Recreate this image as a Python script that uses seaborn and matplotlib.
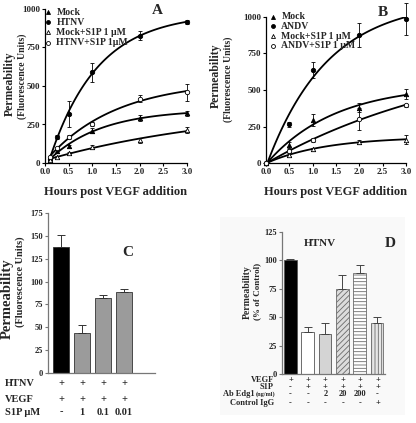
import numpy as np
import pandas as pd
import matplotlib
matplotlib.use('Agg')
import matplotlib.pyplot as plt
import seaborn as sns
from matplotlib.patches import Rectangle

# ---- panel A : HTNV time course
a_hours = [0.1, 0.25, 0.5, 1.0, 2.0, 3.0]
a_mock = [22, 76, 108, 210, 292, 322]
a_mock_err = [5, 8, 10, 15, 20, 15]
a_htnv = [26, 167, 318, 589, 827, 916]
a_htnv_err = [5, 12, 85, 60, 28, 15]
a_mock_s1p = [20, 40, 65, 104, 147, 212]
a_mock_s1p_err = [4, 6, 8, 15, 15, 20]
a_htnv_s1p = [40, 97, 167, 253, 418, 460]
a_htnv_s1p_err = [5, 8, 12, 15, 25, 55]

# ---- panel B : ANDV time course
b_hours = [0.0, 0.5, 1.0, 2.0, 3.0]
b_mock = [0, 125, 295, 380, 472]
b_mock_err = [0, 23, 42, 30, 35]
b_andv = [0, 266, 636, 876, 984]
b_andv_err = [0, 18, 55, 80, 110]
b_mock_s1p = [0, 60, 95, 147, 162]
b_mock_s1p_err = [0, 8, 10, 15, 28]
b_andv_s1p = [0, 85, 159, 302, 397]
b_andv_s1p_err = [0, 10, 12, 75, 10]

# ---- panel C
c_groups = ['ctl', 's1p_1', 's1p_01', 's1p_001']
c_values = [138, 44, 82, 89]
c_err = [13, 9, 3, 3]
c_htnv = ['+', '+', '+', '+']
c_vegf = ['+', '+', '+', '+']
c_s1p = ['-', '1', '0.1', '0.01']

# ---- panel D
d_groups = ['vegf', 's1p', 'ab2', 'ab20', 'ab200', 'igg']
d_values = [100, 37, 35, 75, 89, 45]
d_err = [1, 4, 10, 12, 7, 5]
d_vegf = ['+', '+', '+', '+', '+', '+']
d_s1p = ['-', '+', '+', '+', '+', '+']
d_ab = ['-', '-', '2', '20', '200', '-']
d_igg = ['-', '-', '-', '-', '-', '+']

sns.set_style('ticks')
plt.rcParams['font.family'] = ['Liberation Serif', 'DejaVu Serif']
plt.rcParams['font.weight'] = 'bold'
plt.rcParams['hatch.linewidth'] = 0.6

W, H = 416, 423
fig = plt.figure(figsize=(W / 100, H / 100), dpi=100)


def rect(l, t, r, b):
    return [l / W, 1 - b / H, (r - l) / W, (b - t) / H]


def ftext(xpix, ypix, s, **kw):
    fig.text(xpix / W, 1 - ypix / H, s, fontweight='bold', **kw)


def fit_curve(x, y):
    # y = a + b*exp(-k x); k by grid search, a and b by least squares
    x = np.asarray(x, float)
    y = np.asarray(y, float)
    best = None
    for k in np.linspace(0.05, 5, 500):
        A = np.column_stack([np.ones_like(x), np.exp(-k * x)])
        coef, *_ = np.linalg.lstsq(A, y, rcond=None)
        sse = np.sum((A @ coef - y) ** 2)
        if best is None or sse < best[0]:
            best = (sse, k, coef)
    _, k, (a, b) = best
    xs = np.linspace(x.min(), x.max(), 120)
    return xs, a + b * np.exp(-k * xs)


def style_axes(ax, color='black'):
    sns.despine(ax=ax)
    for s in ['left', 'bottom']:
        ax.spines[s].set_color(color)
        ax.spines[s].set_linewidth(0.9)
    ax.tick_params(length=2.5, width=0.8, pad=1, labelsize=6.5, color=color)
    for lab in ax.get_xticklabels() + ax.get_yticklabels():
        lab.set_fontweight('bold')


def time_panel(ax, hours, series, legend_xy):
    for name, vals, err, marker, face in series:
        xs, ys = fit_curve(hours, vals)
        sns.lineplot(x=xs, y=ys, color='black', lw=1.3, ax=ax)
        ax.errorbar(hours, vals, yerr=err, fmt='none', ecolor='black',
                    elinewidth=0.6, capsize=1.5, capthick=0.6, clip_on=False)
        sns.scatterplot(x=hours, y=vals, marker=marker, s=10, color=face,
                        edgecolor='black', linewidth=0.6, ax=ax, zorder=5, clip_on=False)
    ax.set_xlim(0, 3.0)
    ax.set_ylim(0, 1000)
    ax.set_xticks(np.arange(0, 3.01, 0.5))
    ax.set_xticklabels([f'{v:.1f}' for v in np.arange(0, 3.01, 0.5)])
    ax.set_yticks([0, 250, 500, 750, 1000])
    style_axes(ax)
    ax.set_xlabel('Hours post VEGF addition', fontsize=9, fontweight='bold', labelpad=7)
    ax.set_ylabel('')
    lx, ly = legend_xy
    for i, (name, vals, err, marker, face) in enumerate(series):
        yy = ly - i * 0.066
        ax.scatter([lx], [yy], marker=marker, s=8, c=face, edgecolors='black',
                   linewidths=0.6, transform=ax.transAxes, clip_on=False, zorder=6)
        ax.text(lx + 0.06, yy, name, transform=ax.transAxes, fontsize=7,
                fontweight='bold', va='center', ha='left')


# ---- A
axA = fig.add_axes(rect(45, 9, 187, 163))
time_panel(axA, a_hours, [
    ('Mock', a_mock, a_mock_err, '^', 'black'),
    ('HTNV', a_htnv, a_htnv_err, 'o', 'black'),
    ('Mock+S1P 1 \u00b5M', a_mock_s1p, a_mock_s1p_err, '^', 'white'),
    ('HTNV+S1P 1\u00b5M', a_htnv_s1p, a_htnv_s1p_err, 'o', 'white'),
], (0.02, 0.98))
ftext(157, 11, 'A', fontsize=11, ha='center', va='center')
ftext(10, 84, 'Permeability', rotation=90, fontsize=8.5, ha='center', va='center')
ftext(22, 76, '(Fluorescence Units)', rotation=90, fontsize=7, ha='center', va='center')

# ---- B
axB = fig.add_axes(rect(266, 16.7, 406, 163.3))
time_panel(axB, b_hours, [
    ('Mock', b_mock, b_mock_err, '^', 'black'),
    ('ANDV', b_andv, b_andv_err, 'o', 'black'),
    ('Mock+S1P 1 \u00b5M', b_mock_s1p, b_mock_s1p_err, '^', 'white'),
    ('ANDV+S1P 1 \u00b5M', b_andv_s1p, b_andv_s1p_err, 'o', 'white'),
], (0.05, 1.0))
ftext(383, 12, 'B', fontsize=11, ha='center', va='center')
ftext(216, 76, 'Permeability', rotation=90, fontsize=8.5, ha='center', va='center')
ftext(228, 79, '(Fluorescence Units)', rotation=90, fontsize=7, ha='center', va='center')

# ---- C
axC = fig.add_axes(rect(48, 213, 155, 373))
sns.barplot(x=c_groups, y=c_values, hue=c_groups,
            palette=['black', '#9b9b9b', '#9b9b9b', '#9b9b9b'],
            width=0.76, edgecolor='#333333', linewidth=0.6, legend=False, ax=axC)
axC.errorbar(range(len(c_values)), c_values, yerr=[[0] * len(c_err), c_err], fmt='none',
             ecolor='#333333', elinewidth=0.7, capsize=3, capthick=0.7)
axC.set_xlim(-0.62, 4.48)
axC.set_ylim(0, 175)
axC.set_yticks(np.arange(0, 176, 25))
axC.set_xticks([])
axC.set_xlabel('')
style_axes(axC, color='#777777')
axC.tick_params(labelsize=6)
ftext(128, 252, 'C', fontsize=11, ha='center', va='center')
ftext(7, 299, 'Permeability', rotation=90, fontsize=10.5, ha='center', va='center')
ftext(20, 282, '(Fluorescence Units)', rotation=90, fontsize=7.5, ha='center', va='center')
for row_label, row_vals, ypix in [('HTNV', c_htnv, 383), ('VEGF', c_vegf, 399),
                                  ('S1P \u00b5M', c_s1p, 412)]:
    ftext(5, ypix, row_label, fontsize=7.5, ha='left', va='center')
    for i, v in enumerate(row_vals):
        ftext(61 + i * 21, ypix, v, fontsize=7.5, ha='center', va='center')

# ---- D
fig.patches.append(Rectangle((220 / W, 1 - 415 / H), 185 / W, 198 / H, transform=fig.transFigure,
                             facecolor='#f9f9f9', edgecolor='none', zorder=-1))
axD = fig.add_axes(rect(282, 232, 385, 374))
axD.patch.set_alpha(0)
d_faces = ['black', 'white', '#d4d4d4', '#dcdcdc', 'white', '#e6e6e6']
d_hatch = [None, None, None, '//////', '-----', '|||||']
sns.barplot(x=d_groups, y=d_values, hue=d_groups, palette=d_faces, width=0.74,
            edgecolor='#555555', linewidth=0.6, legend=False, ax=axD)
for p, h in zip(axD.patches, d_hatch):
    if h:
        p.set_hatch(h)
        p.set_edgecolor('#6a6a6a')
axD.errorbar(range(len(d_values)), d_values, yerr=[[0] * len(d_err), d_err], fmt='none',
             ecolor='#444444', elinewidth=0.7, capsize=3, capthick=0.7)
axD.set_xlim(-0.48, 5.46)
axD.set_ylim(0, 125)
axD.set_yticks(np.arange(0, 126, 25))
axD.set_xticks([])
axD.set_xlabel('')
style_axes(axD, color='#777777')
axD.tick_params(labelsize=6)
ftext(320, 243, 'HTNV', fontsize=8, ha='center', va='center')
ftext(390, 243, 'D', fontsize=11, ha='center', va='center')
ftext(247, 292, 'Permeability', rotation=90, fontsize=7, ha='center', va='center')
ftext(257, 291, '(% of Control)', rotation=90, fontsize=6.5, ha='center', va='center')
for row_label, row_vals, ypix in [('VEGF', d_vegf, 380), ('S1P', d_s1p, 387),
                                  ('Ab Edg1', d_ab, 394), ('Control IgG', d_igg, 403)]:
    if row_label == 'Ab Edg1':
        ftext(255, ypix, row_label, fontsize=6, ha='right', va='center')
        ftext(255.5, ypix + 0.5, '(ng/ml)', fontsize=4.5, ha='left', va='center')
    else:
        ftext(274, ypix, row_label, fontsize=6, ha='right', va='center')
    for i, v in enumerate(row_vals):
        ftext(290.5 + i * 17.4, ypix, v, fontsize=6, ha='center', va='center')

fig.savefig('out.png', dpi=100, facecolor='white')
